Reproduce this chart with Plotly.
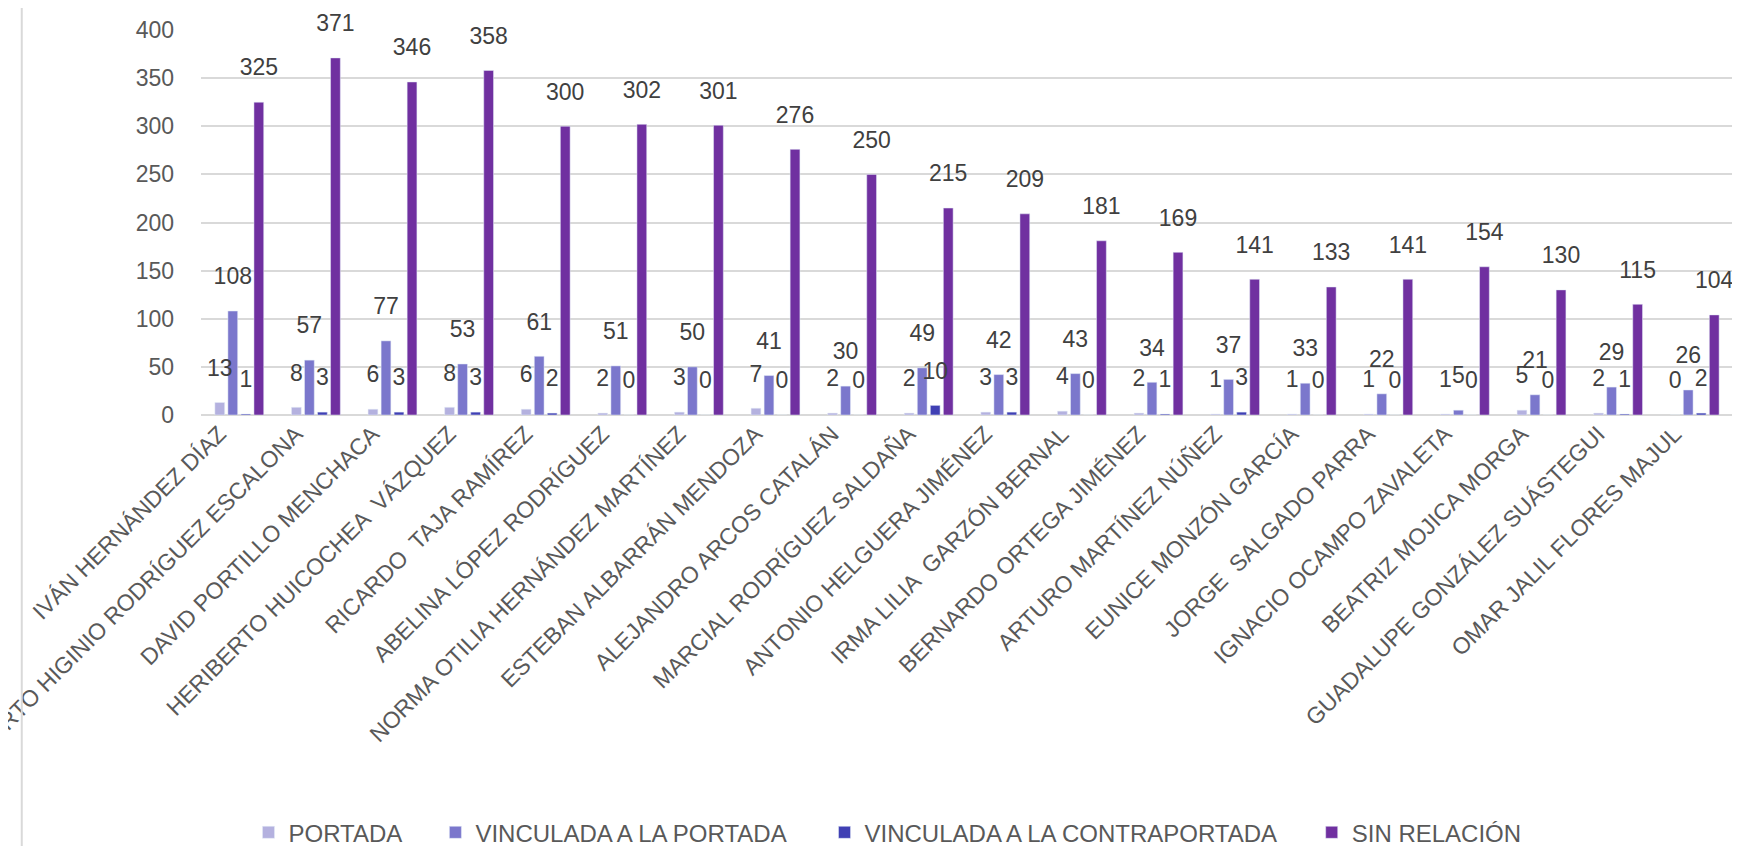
import plotly.graph_objects as go

nombres = [
    "IVÁN HERNÁNDEZ DÍAZ", "ROBERTO HIGINIO RODRÍGUEZ ESCALONA", "DAVID PORTILLO MENCHACA",
    "HERIBERTO HUICOCHEA  VÁZQUEZ", "RICARDO  TAJA RAMÍREZ", "ABELINA LÓPEZ RODRÍGUEZ",
    "NORMA OTILIA HERNÁNDEZ MARTÍNEZ", "ESTEBAN ALBARRÁN MENDOZA", "ALEJANDRO ARCOS CATALÁN",
    "MARCIAL RODRÍGUEZ SALDAÑA", "ANTONIO HELGUERA JIMÉNEZ", "IRMA LILIA  GARZÓN BERNAL",
    "BERNARDO ORTEGA JIMÉNEZ", "ARTURO MARTÍNEZ NÚÑEZ", "EUNICE MONZÓN GARCÍA",
    "JORGE  SALGADO PARRA", "IGNACIO OCAMPO ZAVALETA", "BEATRIZ MOJICA MORGA",
    "GUADALUPE GONZÁLEZ SUÁSTEGUI", "OMAR JALIL FLORES MAJUL",
]

portada = [13, 8, 6, 8, 6, 2, 3, 7, 2, 2, 3, 4, 2, 1, 1, 1, 1, 5, 2, 0]
vinculada_portada = [108, 57, 77, 53, 61, 51, 50, 41, 30, 49, 42, 43, 34, 37, 33, 22, 5, 21, 29, 26]
vinculada_contraportada = [1, 3, 3, 3, 2, 0, 0, 0, 0, 10, 3, 0, 1, 3, 0, 0, 0, 0, 1, 2]
sin_relacion = [325, 371, 346, 358, 300, 302, 301, 276, 250, 215, 209, 181, 169, 141, 133, 141, 154, 130, 115, 104]

series = [
    ("PORTADA", portada, "#B4B1DF"),
    ("VINCULADA A LA PORTADA", vinculada_portada, "#7B77CC"),
    ("VINCULADA A LA CONTRAPORTADA", vinculada_contraportada, "#4040B4"),
    ("SIN RELACIÓN", sin_relacion, "#7030A0"),
]

# posición horizontal de cada entrada de la leyenda (fracción del área de trazado)
legend_x = [0.031, 0.153, 0.407, 0.725]

GAP = 0.32

fig = go.Figure()

# barras + etiquetas (misma offsetgroup para que el texto quede sobre su barra)
for i, (nombre, vals, color) in enumerate(series):
    leg = "legend" if i == 0 else "legend%d" % (i + 1)
    fig.add_trace(go.Bar(
        x=nombres, y=vals, name=nombre, marker_color=color,
        offsetgroup="g%d" % i, hoverinfo="x+y+name", legend=leg,
    ))
    fig.add_trace(go.Scatter(
        x=nombres, y=vals, mode="markers+text", text=[str(v) for v in vals],
        textposition="top center", offsetgroup="g%d" % i,
        marker=dict(size=32, opacity=0, color=color),
        textfont=dict(size=23, color="#404040", family="Liberation Sans, Arial"),
        showlegend=False, hoverinfo="skip", cliponaxis=False,
    ))

leyendas = {}
for i, lx in enumerate(legend_x):
    key = "legend" if i == 0 else "legend%d" % (i + 1)
    leyendas[key] = dict(
        orientation="h", x=lx, xanchor="left", y=-1.085, yanchor="middle",
        font=dict(size=24, color="#595959"), itemwidth=30,
        bgcolor="rgba(0,0,0,0)",
    )

fig.update_layout(
    width=1740, height=846,
    barmode="group", bargap=GAP, bargroupgap=0.25,
    scattermode="group", scattergap=GAP,
    plot_bgcolor="white", paper_bgcolor="white",
    font=dict(family="Liberation Sans, Arial", size=23, color="#595959"),
    margin=dict(l=193, r=15, t=22, b=439, autoexpand=False),
    xaxis=dict(
        tickangle=-45, automargin=False, showgrid=False, showline=False,
        ticks="", ticklabelshift=-20, tickfont=dict(size=23, color="#595959"),
    ),
    yaxis=dict(
        range=[0, 400], dtick=50, showgrid=True, gridcolor="#D9D9D9", gridwidth=1.5,
        zeroline=True, zerolinecolor="#D9D9D9", zerolinewidth=1.5,
        showline=False, ticks="", automargin=False, ticklabelstandoff=26,
        tickfont=dict(size=23, color="#595959"),
    ),
    shapes=[dict(
        type="line", xref="paper", yref="paper", x0=-0.117, x1=-0.117,
        y0=-1.2, y1=1.1, line=dict(color="#D9D9D9", width=2),
    )],
    **leyendas,
)

fig.write_html("out.html")
